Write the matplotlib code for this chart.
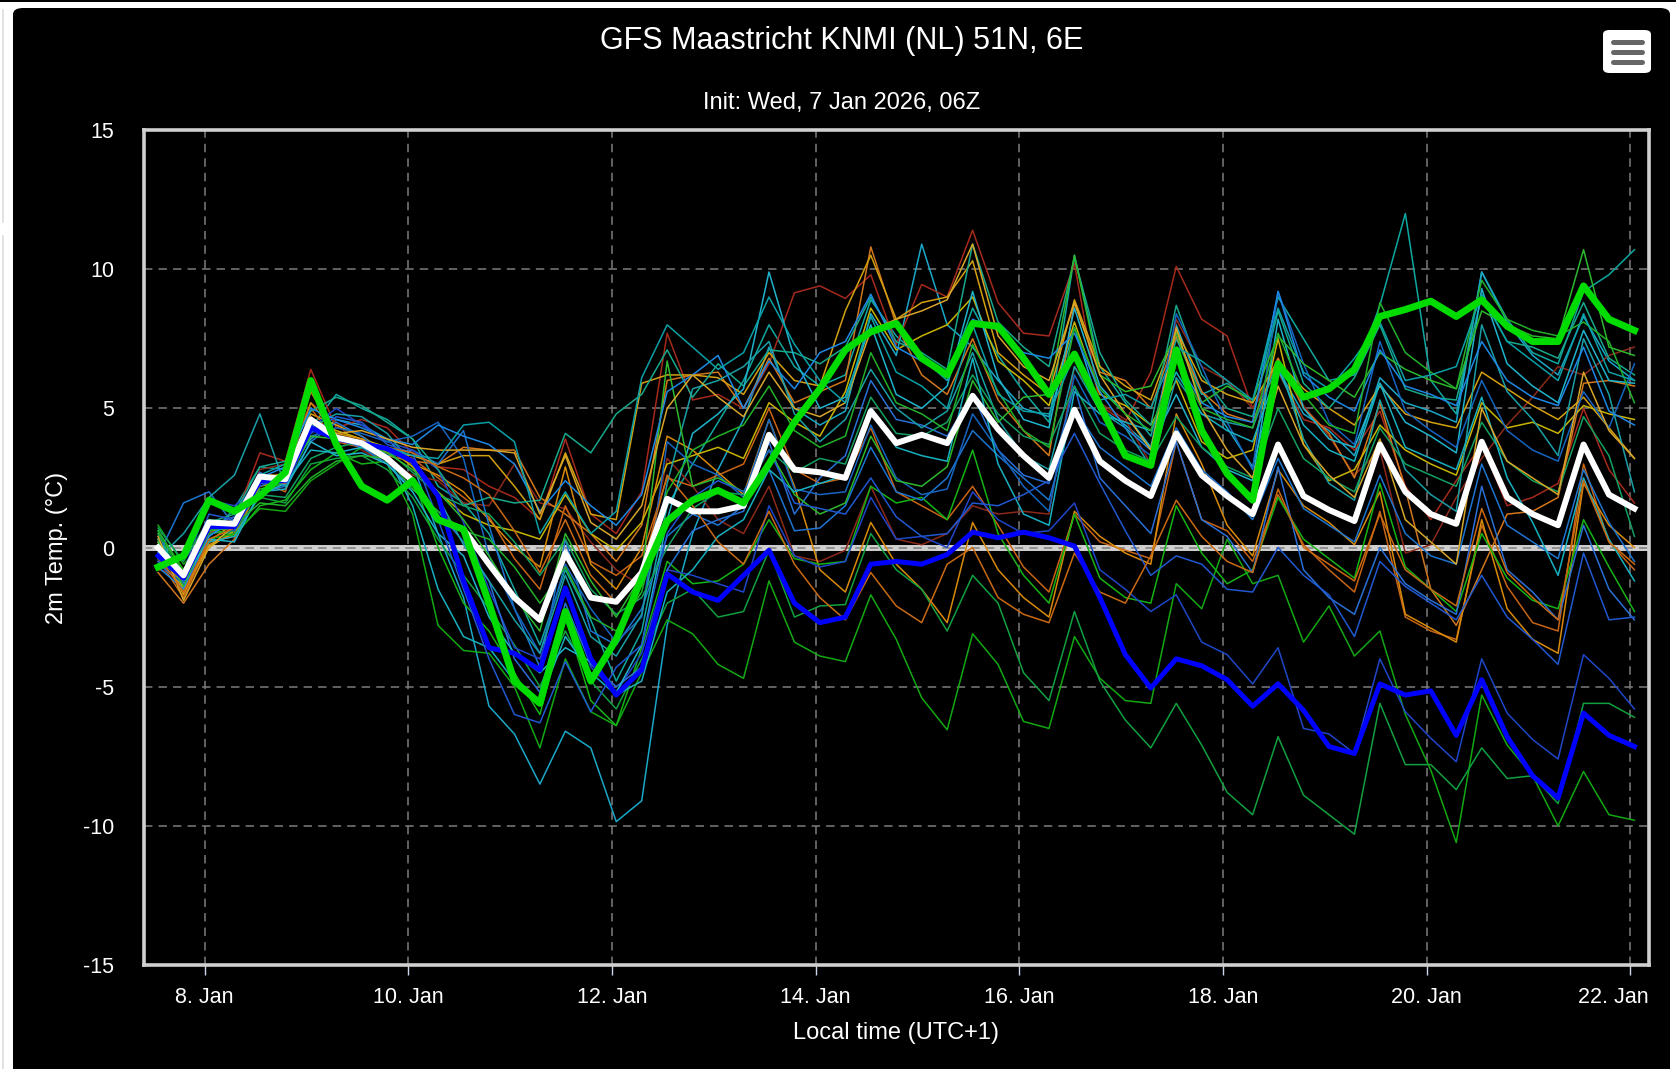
import matplotlib
matplotlib.use("Agg")
import matplotlib.pyplot as plt
import pandas as pd
from matplotlib.patches import FancyBboxPatch, Rectangle
from matplotlib.lines import Line2D
from matplotlib.transforms import ScaledTranslation

plt.rcParams['font.family'] = ['Liberation Sans', 'DejaVu Sans']
plt.rcParams['axes.unicode_minus'] = False

# 6-hourly steps, local time (UTC+1)
times = pd.date_range("2026-01-07 13:00", periods=59, freq="6h")
tick_days = pd.date_range("2026-01-08", "2026-01-22", freq="2D")
tick_labels = ["%d. Jan" % d.day for d in tick_days]

ens_mean = [0.0, -1.0, 0.9, 0.85, 2.55, 2.45, 4.6, 3.95, 3.75, 3.2, 2.4, 1.0, 0.65,
            -0.6, -1.8, -2.6, -0.2, -1.8, -1.95, -0.9, 1.75,
            1.3, 1.3, 1.5, 4.05, 2.8, 2.7, 2.5, 4.9, 3.75, 4.05, 3.75, 5.45, 4.25, 3.3, 2.5, 4.95, 3.1, 2.4, 1.85, 4.1,
            2.6, 1.85, 1.2, 3.7, 1.85, 1.35, 0.95, 3.7, 2.0, 1.2, 0.85, 3.8, 1.8, 1.2, 0.8, 3.7, 1.9, 1.4]

oper = [-0.7, -0.3, 1.7, 1.3, 1.85, 2.7, 6.0, 3.7, 2.2, 1.7, 2.4, 1.0, 0.65,
        -2.0, -4.8, -5.6, -2.3, -4.8, -3.3, -1.1, 0.95,
        1.7, 2.05, 1.6, 3.0, 4.5, 5.7, 7.1, 7.75, 8.05, 6.8, 6.2, 8.05, 7.95, 6.8, 5.5, 6.95, 5.1, 3.3, 2.95, 7.1,
        4.2, 2.65, 1.7, 6.6, 5.4, 5.7, 6.4, 8.3, 8.55, 8.85, 8.3, 8.9, 7.95, 7.4, 7.4, 9.4, 8.2, 7.8]

control = [-0.3, -1.1, 0.75, 0.75, 2.4, 2.4, 4.3, 3.9, 3.75, 3.55, 3.1, 1.85, -1.2,
           -3.6, -3.8, -4.4, -1.45, -4.0, -5.3, -4.4, -0.95,
           -1.6, -1.9, -1.0, -0.1, -2.0, -2.7, -2.5, -0.6, -0.5, -0.6, -0.25, 0.55, 0.35, 0.55, 0.35, 0.05, -1.8, -3.85, -5.05, -4.0,
           -4.25, -4.75, -5.7, -4.9, -5.85, -7.15, -7.4, -4.9, -5.3, -5.15, -6.75, -4.75, -6.8, -8.2, -9.0, -5.95, -6.75, -7.15]

m01 = ([0.5, -1.3, 0.4, 1.4, 2.9, 2.8, 4.3, 5.5, 5.0, 4.6, 3.9, 2.2, 1.6]
       + [0.5, -1.5, -3.5, -0.8, -2.6, -4.8, -3.0, 1.5]
       + [3.0, 4.5, 6.0, 8.0, 6.5, 5.8, 6.2, 8.9, 7.6, 6.8, 6.0, 8.6, 6.9, 5.6, 4.5, 10.5, 6.5, 5.2, 4.0, 7.5]
       + [5.5, 5.9, 5.2, 9.0, 7.5, 6.0, 6.2, 8.7, 12.0, 6.0, 4.8, 9.9, 8.2, 7.0, 6.6, 9.2, 9.8, 10.7])
m02 = ([-0.5, -1.4, 0.6, 0.5, 2.3, 2.6, 3.9, 4.6, 4.4, 3.9, 3.0, 0.5, -1.8]
       + [-5.7, -6.7, -8.5, -6.6, -7.2, -9.85, -9.1, -2.8]
       + [0.5, 2.8, 4.6, 7.2, 5.0, 4.4, 4.9, 8.4, 6.9, 10.9, 8.0, 7.2, 6.0, 5.0, 4.7, 7.9, 5.0, 4.4, 3.6, 8.0]
       + [5.6, 4.3, 2.9, 6.4, 4.8, 4.2, 3.3, 6.1, 5.2, 4.9, 4.5, 9.9, 8.1, 6.9, 6.2, 8.3, 6.7, 6.0])
m03 = ([-0.6, -1.2, 0.5, 1.0, 3.4, 3.1, 6.4, 4.3, 4.6, 4.3, 3.4, 2.9, 2.8]
       + [2.2, 1.8, 1.0, 3.9, 1.2, 0.5, 2.0, 7.7]
       + [5.3, 5.5, 5.0, 6.6, 9.15, 9.4, 8.95, 9.8, 7.3, 9.45, 9.0, 11.4, 8.8, 7.7, 7.6, 10.2, 5.1, 4.5, 6.3, 10.1]
       + [8.2, 7.6, 5.0, 6.3, 4.6, 4.3, 3.5, 4.9, 2.2, 1.0, 2.4, 3.7, 1.5, 1.8, 2.3, 5.0, 2.8, 1.6])
m04 = ([-0.8, -1.0, 0.7, 0.6, 2.8, 3.0, 5.2, 4.5, 3.5, 3.0, 2.6, 2.4, 1.6]
       + [1.5, 3.0, 1.6, 1.4, 0.2, -0.8, -1.4, 3.2]
       + [2.2, 1.0, 0.5, 2.2, -0.3, -0.5, -0.1, 2.2, 0.3, 0.1, 0.5, 1.5, 1.2, 1.3, 1.2, 6.5, 5.2, 4.6, 3.0, 8.2]
       + [6.5, 6.0, 5.0, 6.8, 5.1, 4.0, 2.6, 3.5, -0.2, 0.1, 1.8, 3.2, 4.4, 5.4, 6.5, 6.2, 6.9, 7.2])
m05 = ([-0.9, -2.0, -0.6, 0.3, 2.3, 2.6, 5.6, 4.0, 3.7, 3.3, 3.1, 3.0, 3.6]
       + [3.5, 3.5, 1.8, 1.2, 0.5, -0.5, 0.8, 6.0]
       + [6.2, 6.3, 5.0, 6.8, 5.2, 5.6, 6.0, 10.8, 8.0, 6.2, 5.5, 7.5, 5.3, 4.2, 3.3, 8.8, 6.3, 6.0, 5.0, 7.6]
       + [5.6, 4.8, 4.5, 6.8, 5.0, 4.1, 2.5, 5.2, 2.1, -1.5, -2.8, -0.8, 1.2, 1.3, 1.8, 5.9, 6.0, 5.8])
m06 = ([0.2, -1.7, 0.2, 0.9, 2.6, 2.4, 4.8, 4.4, 4.0, 3.4, 3.3, 3.0, 3.3]
       + [3.3, 2.2, 1.0, 3.4, 1.2, 1.0, 5.9, 6.2]
       + [6.2, 6.1, 5.5, 7.0, 6.0, 5.8, 8.5, 10.5, 8.2, 8.8, 9.0, 10.3, 7.0, 6.2, 5.5, 8.9, 6.5, 5.8, 5.3, 7.8]
       + [6.0, 5.5, 5.2, 6.7, 5.7, 5.0, 4.4, 5.8, 4.8, 4.5, 4.3, 6.3, 5.7, 5.1, 4.6, 5.4, 4.3, 3.2])
m07 = ([0.3, -1.5, 0.0, 0.6, 2.2, 2.4, 4.6, 4.2, 3.9, 3.6, 2.9, 2.0, 1.2]
       + [0.8, 0.6, 0.3, 1.9, 0.5, -0.1, 0.9, 3.0]
       + [3.3, 3.6, 3.2, 5.2, 4.5, 4.0, 5.6, 8.6, 7.1, 7.6, 8.0, 9.0, 6.7, 6.0, 5.1, 8.1, 5.5, 5.1, 4.4, 6.0]
       + [3.8, 3.2, 3.5, 7.5, 3.7, 2.4, 2.8, 4.4, 3.5, 3.0, 2.6, 5.2, 4.3, 4.5, 4.1, 5.1, 4.8, 4.6])
m08 = ([-0.4, -1.8, 0.2, 0.4, 2.4, 2.0, 5.0, 3.8, 3.6, 3.4, 3.2, 2.5, 1.8]
       + [1.1, -0.4, -1.5, 1.5, -0.5, -1.0, -0.3, 2.5]
       + [2.2, 2.6, 3.0, 5.0, 2.8, 2.3, 2.5, 4.3, 2.0, 1.5, 1.0, 2.2, 0.8, -0.7, -1.6, 1.2, 0.2, -0.1, -0.4, 3.8]
       + [1.0, 0.6, -0.5, 1.9, 0.1, -0.8, -1.6, 1.3, -2.5, -3.0, -3.3, 0.8, -1.4, -2.7, -3.0, 3.0, 0.2, -0.8])
m09 = ([0.0, -1.6, 0.1, 0.5, 2.6, 2.6, 5.2, 4.1, 3.9, 3.5, 3.0, 2.6, 2.0]
       + [1.0, 0.0, -0.7, 2.9, -0.6, -1.5, 0.0, 4.0]
       + [3.5, 2.7, 1.9, 4.6, 2.2, -0.8, -1.6, 0.9, -0.6, -1.5, -2.7, 0.9, -0.8, -1.8, -2.5, 1.3, 0.4, -0.2, -0.6, 4.8]
       + [3.0, 0.8, -0.3, 2.8, 1.5, 0.9, 0.1, 2.0, -2.4, -2.9, -3.4, 1.0, -2.2, -3.3, -3.8, 2.3, 0.8, 0.0])
m10 = ([0.8, -0.6, 0.3, 0.5, 1.4, 1.3, 2.4, 3.0, 3.6, 3.0, 1.2, -2.8, -3.7]
       + [-3.8, -5.0, -7.2, -4.0, -5.9, -6.4, -4.5, -2.6]
       + [-3.1, -4.2, -4.7, -1.2, -3.4, -3.9, -4.1, -1.7, -3.3, -5.4, -6.55, -3.1, -4.2, -6.25, -6.5, -3.2, -4.7, -5.5, -5.6, -1.3]
       + [-2.2, 0.3, -1.3, -1.0, -3.4, -2.1, -3.9, -3.0, -6.0, -8.0, -10.6, -5.3, -7.1, -8.2, -10.0, -8.05, -9.6, -9.8])
m11 = ([0.5, -1.0, 0.5, 0.6, 1.8, 1.6, 3.0, 3.2, 3.3, 2.8, 1.8, 0.3, -1.0]
       + [-2.2, -3.5, -5.0, -3.0, -4.8, -5.8, -4.0, -2.0]
       + [-1.5, -2.5, -2.3, -0.1, -2.5, -2.1, -2.05, 0.5, -0.8, -1.5, -3.0, -1.0, -2.0, -4.5, -5.5, -2.3, -4.8, -6.2, -7.2, -5.6]
       + [-7.1, -8.8, -9.6, -6.8, -8.9, -9.6, -10.3, -5.6, -7.8, -7.8, -8.7, -7.2, -8.3, -8.2, -9.2, -5.6, -5.6, -6.1])
m12 = ([0.6, -0.8, 0.7, 0.4, 1.5, 1.7, 2.8, 3.4, 3.0, 3.1, 2.5, 0.0, -2.0]
       + [-3.0, -4.5, -6.0, -2.5, -5.5, -6.4, -3.6, -0.5]
       + [-1.3, -1.2, -0.6, 1.0, -0.4, -0.6, -0.5, 2.2, 1.6, 1.8, 1.0, 3.5, 0.5, -1.0, -2.0, 1.2, -1.1, -1.8, -2.0, 1.5]
       + [-0.2, -1.3, -0.8, 1.8, 0.3, -0.4, -1.1, 2.3, -0.7, -1.5, -2.3, 0.5, -1.1, -1.9, -2.2, 1.0, -0.7, -2.3])
m13 = ([-0.3, 1.6, 2.0, 0.8, 2.0, 2.2, 3.8, 4.5, 4.0, 3.3, 3.5, 3.0, 4.2]
       + [0.8, -2.2, -4.3, 0.3, -3.0, -3.5, -2.2, 0.4]
       + [1.2, 0.8, 1.5, 2.8, 0.6, 0.7, 1.5, 3.6, 2.0, 1.7, 2.5, 4.2, 3.3, 2.5, 1.7, 5.0, 3.6, 2.9, 2.2, 4.3]
       + [2.8, 2.0, 1.0, 3.2, 1.4, 0.8, 0.2, 2.6, 0.5, -0.3, -0.6, 3.0, 0.8, 0.2, -0.4, 2.8, 0.9, -0.5])
m14 = ([-0.2, -0.9, 1.7, 1.5, 2.2, 2.6, 4.3, 5.0, 4.4, 3.8, 3.5, 2.8, 0.9]
       + [-1.5, -3.6, -4.0, -1.5, -4.3, -5.2, -3.8, -0.8]
       + [-1.0, -1.3, -1.6, 1.5, -0.3, -0.7, -0.5, 1.8, 0.3, 0.4, 0.0, 2.0, 1.0, 0.5, 0.6, 1.6, -0.8, -1.5, -2.3, -1.7]
       + [-3.4, -3.85, -4.9, -3.6, -6.5, -6.7, -7.4, -4.0, -5.9, -6.85, -7.7, -4.0, -5.95, -6.9, -7.6, -3.85, -4.7, -5.8])
m15 = ([0.1, -1.0, 0.8, 1.1, 2.7, 2.2, 4.4, 3.9, 3.6, 3.0, 2.1, 1.3, 0.2]
       + [-1.2, -4.0, -5.2, -2.0, -4.2, -5.0, -4.3, -0.8]
       + [0.6, 1.0, 1.3, 3.8, 1.2, 2.5, 3.3, 6.0, 4.6, 4.4, 4.0, 5.5, 3.5, 2.6, 2.3, 5.8, 2.5, 1.5, 0.5, 3.8]
       + [1.0, 0.4, -0.9, 2.9, -0.8, -1.8, -2.4, 0.0, -1.3, -1.9, -2.4, 2.2, -0.8, -1.6, -2.6, 0.8, -1.5, -2.6])
m16 = ([0.3, -1.1, 0.9, 1.2, 2.9, 3.1, 4.9, 5.4, 5.1, 4.5, 3.9, 2.8, 1.5]
       + [1.8, 1.6, 1.7, 4.1, 3.4, 4.8, 5.5, 7.1]
       + [5.4, 6.6, 5.8, 7.1, 7.0, 6.6, 7.2, 9.0, 7.4, 7.0, 6.4, 10.9, 8.1, 7.2, 6.5, 10.4, 7.0, 5.3, 4.4, 8.7]
       + [6.2, 5.0, 4.7, 8.5, 5.9, 5.0, 6.1, 8.0, 5.7, 5.4, 5.3, 9.0, 7.4, 7.2, 6.8, 8.8, 6.8, 6.2])
m17 = ([-0.2, -1.2, 0.3, 0.2, 2.0, 2.1, 3.8, 3.3, 3.4, 3.0, 2.0, 0.5, -0.3]
       + [-2.5, -3.8, -4.5, -3.6, -4.1, -5.2, -3.5, 1.0]
       + [4.1, 4.8, 5.7, 9.9, 6.8, 5.0, 5.4, 8.0, 5.5, 5.0, 5.8, 9.2, 6.1, 4.6, 4.3, 8.6, 5.8, 4.8, 3.6, 5.5]
       + [3.6, 2.8, 2.4, 8.2, 5.0, 3.9, 3.6, 5.9, 4.5, 4.0, 3.4, 9.3, 6.6, 5.8, 5.2, 7.8, 6.0, 5.9])
m18 = ([-0.6, -1.3, 0.9, 0.6, 2.3, 2.4, 4.0, 4.3, 4.1, 3.8, 4.0, 4.5, 3.2]
       + [-0.3, -2.2, -3.8, -0.6, -2.2, -3.4, -2.5, 3.8]
       + [3.0, 2.6, 1.8, 4.6, 2.1, 1.9, 2.0, 4.4, 2.5, 1.9, 2.1, 4.8, 3.5, 2.2, 1.3, 6.2, 4.5, 4.0, 3.3, 8.4]
       + [6.5, 4.5, 2.8, 9.2, 6.6, 4.5, 3.7, 7.4, 4.9, 4.2, 3.6, 6.0, 4.2, 3.5, 3.1, 5.6, 4.3, 6.6])
m19 = ([-0.4, 0.5, 1.8, 2.6, 4.8, 2.2, 4.3, 4.8, 4.7, 4.1, 3.0, 1.8, 0.1]
       + [-1.2, -2.6, -3.8, -1.0, -3.2, -3.9, -2.4, 2.3]
       + [5.7, 6.0, 6.5, 7.4, 4.8, 3.8, 4.6, 6.4, 5.0, 4.3, 4.9, 7.0, 4.6, 3.3, 2.8, 6.5, 4.9, 4.3, 2.9, 6.1]
       + [4.8, 4.5, 4.3, 6.7, 3.9, 2.3, 1.7, 5.3, 2.8, 1.9, 1.3, 8.0, 5.6, 4.6, 3.3, 7.5, 5.5, 2.0])
m20 = ([0.7, -0.5, 1.0, 0.9, 1.9, 1.8, 3.2, 3.6, 3.8, 3.5, 2.7, 1.9, 1.5]
       + [1.2, 0.2, -1.0, 0.3, -1.5, -2.4, -1.8, 0.0]
       + [1.4, 2.0, 1.9, 3.5, 2.7, 3.2, 3.0, 5.4, 4.1, 4.0, 4.5, 6.2, 4.8, 4.0, 3.7, 5.8, 4.1, 3.5, 3.1, 4.7]
       + [3.6, 2.9, 2.5, 5.0, 3.2, 2.5, 2.0, 4.3, 3.0, 2.6, 2.2, 4.5, 3.1, 2.4, 2.0, 4.7, 3.3, 0.4])
m21 = ([0.2, -1.4, 0.6, 0.7, 2.1, 2.3, 4.0, 3.9, 3.7, 3.4, 2.8, 2.0, 1.0]
       + [-0.3, -1.8, -3.0, 0.5, -1.2, -2.5, -1.0, 6.7]
       + [2.2, 2.5, 2.0, 3.5, 1.9, 1.2, 1.6, 4.0, 2.4, 2.2, 2.9, 6.0, 4.5, 5.4, 5.5, 10.5, 6.2, 5.6, 5.8, 7.7]
       + [5.2, 5.8, 5.3, 7.6, 6.6, 6.0, 5.4, 7.0, 6.4, 6.0, 5.7, 8.5, 8.0, 7.6, 7.5, 10.7, 7.2, 6.9])
m22 = ([-0.7, -1.5, 0.4, 1.0, 2.5, 2.9, 5.0, 4.6, 4.3, 3.9, 3.7, 4.4, 4.0]
       + [3.7, 3.0, 1.3, 2.4, 1.5, 0.8, 1.9, 5.6]
       + [6.2, 6.9, 5.0, 6.7, 5.7, 7.0, 7.4, 9.1, 7.2, 6.7, 6.2, 8.2, 7.8, 7.0, 6.8, 7.7, 5.6, 4.3, 3.5, 6.8]
       + [5.2, 4.7, 4.5, 9.2, 6.2, 5.4, 4.9, 7.1, 5.8, 5.5, 5.1, 7.4, 6.0, 5.4, 5.1, 7.2, 4.9, 4.4])
m23 = ([0.0, -1.0, 0.2, 0.4, 1.9, 2.3, 3.5, 3.4, 3.6, 3.3, 1.5, -1.5, -3.2]
       + [-3.6, -4.8, -5.5, -3.2, -4.5, -5.3, -4.8, -1.6]
       + [-0.8, 0.4, 1.0, 2.8, 2.0, 2.3, 2.6, 5.0, 3.6, 3.3, 3.1, 6.8, 3.0, 1.2, 0.8, 5.6, 4.8, 4.5, 4.2, 6.3]
       + [4.8, 4.2, 3.8, 6.4, 4.4, 3.5, 3.1, 5.9, 3.6, 3.2, 2.8, 5.4, 2.5, 0.9, -1.0, 2.5, 0.3, -1.2])
m24 = ([0.4, -1.9, 0.0, 0.8, 2.4, 2.7, 4.5, 4.1, 4.2, 3.9, 3.6, 3.5, 3.5]
       + [3.5, 3.4, 1.2, 3.3, 0.9, 0.3, 1.5, 5.0]
       + [6.2, 5.4, 4.7, 6.3, 5.0, 4.7, 5.2, 7.8, 8.2, 8.5, 8.9, 10.9, 7.6, 6.5, 6.0, 8.8, 6.2, 4.8, 3.5, 7.9]
       + [5.0, 3.5, 2.5, 5.8, 3.7, 2.6, 1.8, 3.9, 1.0, 0.2, -0.6, 5.0, 3.1, 2.5, 1.9, 6.3, 4.2, 3.2])
m25 = ([-0.5, -1.1, 1.2, 1.0, 2.4, 2.6, 4.1, 4.7, 4.5, 3.7, 3.4, 1.0, -1.5]
       + [-4.0, -6.0, -6.3, -4.1, -5.9, -4.3, -3.5, 0.5]
       + [1.8, 2.4, 2.0, 3.5, 1.6, 1.4, 1.2, 2.5, 1.1, 0.4, 0.5, 1.6, 1.5, 1.9, 2.4, 4.1, 2.3, 0.6, -1.0, -0.3]
       + [-0.6, -1.5, -1.6, 0.0, -1.0, -1.7, -3.2, -0.5, -1.4, -2.0, -2.6, -1.0, -2.5, -3.3, -4.2, -0.2, -2.6, -2.5])
m26 = ([-0.3, -1.6, 0.3, 0.7, 2.5, 2.3, 4.7, 3.9, 3.8, 3.6, 3.4, 2.9, 2.5]
       + [1.9, 0.6, -0.9, 1.0, -1.0, -2.0, -0.8, 2.6]
       + [1.5, 0.2, -0.6, 1.3, -0.6, -1.8, -2.6, -0.9, -2.1, -2.7, -0.6, 0.0, -1.8, -2.4, -2.7, -0.2, -1.6, -2.0, -0.3, 1.7]
       + [0.4, -0.5, -0.9, 2.1, 0.0, -0.6, -1.2, 1.2, -0.8, -1.5, -2.1, 1.4, -0.9, -1.8, -2.6, 2.4, 0.2, -0.6])
m27 = ([0.6, -0.9, 0.6, 0.8, 1.6, 1.5, 2.5, 3.1, 3.3, 3.2, 2.1, 1.3, 0.6]
       + [0.3, -0.7, -2.0, -0.7, -2.5, -3.0, -1.6, 2.0]
       + [3.5, 4.0, 4.4, 5.8, 4.2, 3.6, 4.0, 7.0, 5.2, 4.8, 4.2, 7.3, 5.6, 4.2, 3.6, 7.9, 5.7, 4.8, 4.2, 6.8]
       + [5.0, 4.6, 4.3, 7.7, 5.5, 4.4, 4.1, 8.8, 7.0, 6.3, 5.7, 9.6, 8.2, 7.8, 7.6, 8.1, 7.4, 5.2])
m28 = ([-0.1, -1.2, 0.8, 0.9, 2.6, 3.0, 4.2, 4.0, 3.8, 3.6, 3.3, 3.2, 4.4]
       + [4.5, 3.8, 0.5, 2.0, 0.5, 1.3, 6.1, 8.0]
       + [7.2, 6.4, 7.0, 9.0, 7.3, 6.0, 5.2, 8.3, 6.3, 5.8, 5.0, 8.0, 5.5, 4.9, 4.8, 6.9, 5.3, 5.5, 5.0, 7.2]
       + [6.7, 6.0, 5.3, 8.6, 6.3, 5.7, 6.8, 8.1, 6.0, 6.2, 6.5, 9.1, 7.4, 6.7, 6.0, 8.4, 6.3, 6.0])

members = [m01, m02, m03, m04, m05, m06, m07, m08, m09, m10, m11, m12, m13, m14,
           m15, m16, m17, m18, m19, m20, m21, m22, m23, m24, m25, m26, m27, m28]
member_colors = ["#0fa8a0", "#1aa7c8", "#a52a1c", "#8b2a1a", "#d2761c", "#d4a010", "#c8b400",
                 "#c86414", "#d88a0a", "#12a812", "#10a040", "#14b414", "#1c74d0", "#1f46c8",
                 "#2a6fd6", "#17a88c", "#1fb4cc", "#1565c0", "#1a9fa6", "#12a060", "#2db82d",
                 "#1e88e5", "#16b0c0", "#d7a52a", "#2058d0", "#c96a12", "#22b02a", "#0aa0a8"]

W, H = 1676, 1069
fig = plt.figure(figsize=(W / 100, H / 100), dpi=100, facecolor="white")

# dark page panel + header strip, behind the axes
fig.patches.append(Rectangle((0, 1 - 2 / H), 1, 2 / H, transform=fig.transFigure,
                             facecolor="black", edgecolor="none", zorder=-10))
fig.patches.append(FancyBboxPatch((13 / W, -0.02), (1670 - 13) / W, 1.02 - 8 / H,
                                  boxstyle="round,pad=0,rounding_size=0.006",
                                  transform=fig.transFigure, facecolor="black", edgecolor="none",
                                  zorder=-10))
fig.lines.append(Line2D([2.5 / W, 2.5 / W], [1 - 10 / H, 1 - 222 / H], transform=fig.transFigure,
                        color="#dddddd", lw=1.2, zorder=-10))
fig.lines.append(Line2D([2.5 / W, 2.5 / W], [1 - 236 / H, 0.0], transform=fig.transFigure,
                        color="#dddddd", lw=1.2, zorder=-10))

ax = fig.add_axes([143.5 / W, 1 - 965 / H, (1649 - 143.5) / W, (965 - 130) / H])
ax.set_facecolor("black")

grid_style = dict(color="#7d7d7d", linestyle=(0, (5.5, 4)), linewidth=1.1)
ax.set_axisbelow(True)
ax.grid(True, **grid_style)
ax.axhline(0, color="#cfcfcf", lw=4.3, zorder=1.4)
ax.axhline(0, zorder=1.5, **grid_style)

for vals, col in zip(members, member_colors):
    ax.plot(times, vals, color=col, lw=1.1, zorder=2)

ax.plot(times, control, color="#0000ff", lw=3.6, zorder=3, solid_joinstyle="round")
ax.plot(times, ens_mean, color="white", lw=4.3, zorder=4, solid_joinstyle="round")
ax.plot(times, oper, color="#00dc00", lw=5.0, zorder=5, solid_joinstyle="round")

ax.set_ylim(-15, 15)
ax.set_yticks([-15, -10, -5, 0, 5, 10, 15])
ax.set_xlim(pd.Timestamp("2026-01-07 09:34"), pd.Timestamp("2026-01-22 04:26"))
ax.set_xticks(tick_days)
ax.set_xticklabels(tick_labels)

for s in ax.spines.values():
    s.set_color("#d0d0d0")
    s.set_linewidth(2.6)

ax.tick_params(axis="y", length=0, pad=21, labelsize=15.5, labelcolor="white")
ax.tick_params(axis="x", length=7, width=1, color="#ccd6eb", direction="out",
               pad=8.5, labelsize=15.5, labelcolor="white")

# last date label is pushed inside the chart edge
last = ax.get_xticklabels()[-1]
last.set_transform(last.get_transform() + ScaledTranslation(-0.17, 0, fig.dpi_scale_trans))

fig.text(842 / W, 1 - 41 / H, "GFS Maastricht KNMI (NL) 51N, 6E", color="white",
         fontsize=22, ha="center", va="center")
fig.text(842 / W, 1 - 103 / H, "Init: Wed, 7 Jan 2026, 06Z", color="white",
         fontsize=17, ha="center", va="center")
fig.text(896 / W, 1 - 1033 / H, "Local time (UTC+1)", color="white",
         fontsize=17, ha="center", va="center")
fig.text(57 / W, 1 - 547.5 / H, "2m Temp. (°C)", color="white", rotation=90,
         fontsize=17, ha="center", va="center")

# export menu button
fig.patches.append(FancyBboxPatch((1603 / W, 1 - 73 / H), 48 / W, 43 / H,
                                  boxstyle="round,pad=0,rounding_size=0.004",
                                  transform=fig.transFigure, facecolor="white", edgecolor="none",
                                  zorder=5))
for yy in (42, 52, 62):
    fig.lines.append(Line2D([1613 / W, 1642 / W], [1 - yy / H, 1 - yy / H], transform=fig.transFigure,
                            color="#666666", lw=3.6, solid_capstyle="round", zorder=6))

fig.savefig("out.png", dpi=100, facecolor=fig.get_facecolor())
